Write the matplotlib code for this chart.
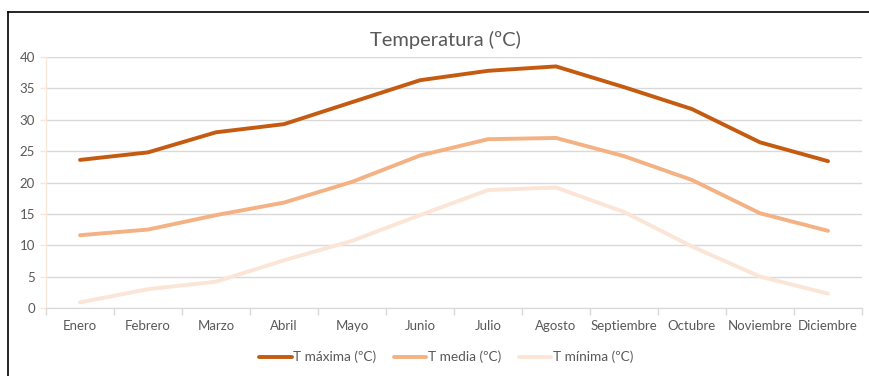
import numpy as np
import matplotlib.pyplot as plt
from matplotlib.lines import Line2D

plt.rcParams['font.family'] = ['Lato', 'DejaVu Sans']

meses = ['Enero', 'Febrero', 'Marzo', 'Abril', 'Mayo', 'Junio', 'Julio',
         'Agosto', 'Septiembre', 'Octubre', 'Noviembre', 'Diciembre']
t_max = [23.6, 24.8, 28.0, 29.3, 32.8, 36.3, 37.8, 38.5, 35.2, 31.7, 26.4, 23.4]
t_media = [11.6, 12.5, 14.8, 16.8, 20.1, 24.3, 26.9, 27.1, 24.2, 20.4, 15.1, 12.3]
t_min = [0.9, 3.0, 4.2, 7.6, 10.7, 14.8, 18.8, 19.2, 15.3, 9.8, 5.0, 2.3]

series = [('T máxima (ºC)', t_max, '#C55A11'),
          ('T media (ºC)', t_media, '#F4B183'),
          ('T mínima (ºC)', t_min, '#FBE5D6')]

gris = '#595959'

fig = plt.figure(figsize=(8.69, 3.76), dpi=100)
ax = fig.add_axes([46/869, 1 - 308/376, 816/869, 251/376])

x = np.arange(len(meses))
for nombre, vals, col in series:
    ax.plot(x, vals, color=col, lw=2.8, label=nombre, solid_capstyle='round', zorder=3)

ax.set_xlim(-0.5, len(meses) - 0.5)
ax.set_ylim(0, 40)
ax.set_yticks(range(0, 41, 5))
ax.set_xticks(x)
ax.set_xticklabels(meses)
ax.set_xticks(np.arange(-0.5, len(meses), 1), minor=True)
ax.tick_params(axis='x', which='major', length=0, pad=9, labelsize=9.5, labelcolor=gris)
ax.tick_params(axis='x', which='minor', length=5, color='#D9D9D9', width=1)
ax.tick_params(axis='y', length=4, color='#FBE5D6', width=1, labelsize=9.5, labelcolor=gris, pad=4)

ax.grid(axis='y', color='#D9D9D9', lw=1)
ax.set_axisbelow(True)
for s in ['top', 'right']:
    ax.spines[s].set_visible(False)
ax.spines['bottom'].set_color('#D9D9D9')
ax.spines['left'].set_color('#FBE5D6')

fig.text(445/869, 1 - 40/376, 'Temperatura (ºC)', ha='center', va='center',
         fontsize=14.5, color=gris)

fig.legend(loc='center', bbox_to_anchor=(446/869, 1 - 357/376), ncol=3,
           frameon=False, fontsize=9.8, labelcolor=gris, handlelength=2.4,
           handletextpad=0.1, columnspacing=1.3)

# marco del grafico
fig.add_artist(Line2D([8/869, 8/869], [0, 1 - 12/376], color='black', lw=1.2,
                      transform=fig.transFigure))
fig.add_artist(Line2D([8/869, 1], [1 - 12/376, 1 - 12/376], color='black', lw=1.2,
                      transform=fig.transFigure))

fig.savefig('out.png', dpi=100)
